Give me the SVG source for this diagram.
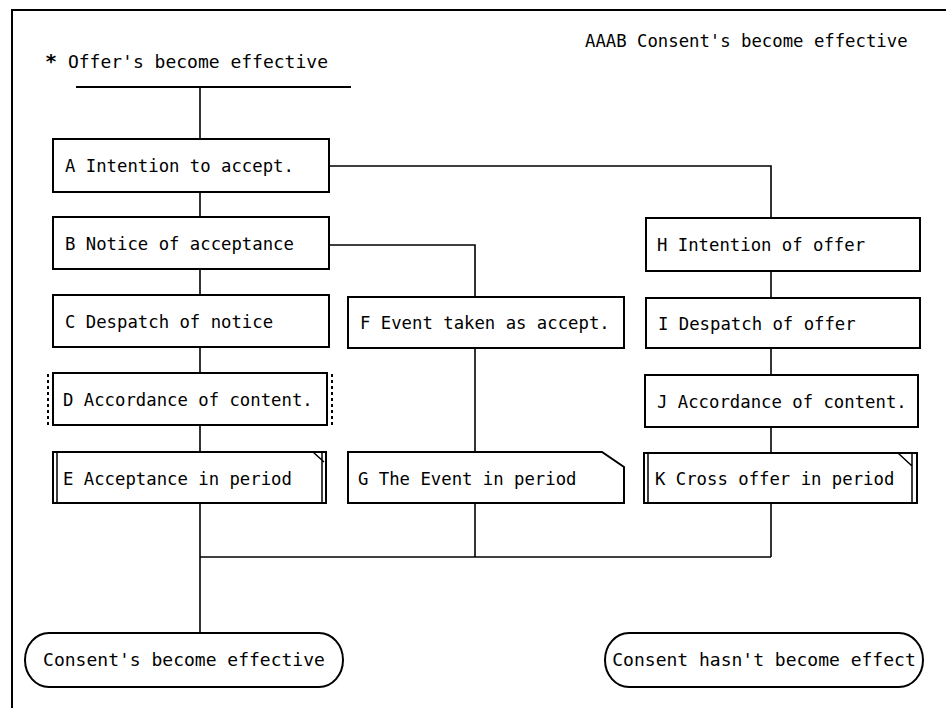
<svg xmlns="http://www.w3.org/2000/svg" width="946" height="708" viewBox="0 0 946 708">
  <style>
    .frame { stroke: #000; stroke-width: 2; fill: none; }
    .box { fill: #fff; stroke: #000; stroke-width: 2; }
    .deco { fill: none; stroke: #000; stroke-width: 1.5; }
    .dots { fill: none; stroke: #000; stroke-width: 2; stroke-dasharray: 3 3; }
    .wire { fill: none; stroke: #000; stroke-width: 1.6; }
    .label { font-family: "DejaVu Sans Mono", "Liberation Mono", monospace; font-size: 17.3px; fill: #000; }
    .head { font-family: "DejaVu Sans Mono", "Liberation Mono", monospace; font-size: 17.3px; fill: #000; }
    .end { font-family: "DejaVu Sans Mono", "Liberation Mono", monospace; font-size: 18px; fill: #000; }
  </style>

  <rect x="0" y="0" width="946" height="708" fill="#fff"/>

  <!-- page frame -->
  <path class="frame" d="M12,708 V10 H946"/>

  <!-- headings -->
  <text class="head" x="585" y="47">AAAB Consent's become effective</text>
  <text class="head" x="45" y="68" style="font-size:18px"><tspan font-weight="bold" font-size="20px">*</tspan> Offer's become effective</text>

  <!-- connectors -->
  <g id="connectors">
    <path class="frame" d="M76,87 H351"/>
    <path class="wire" d="M200,87 V139"/>
    <path class="wire" d="M200,192 V217"/>
    <path class="wire" d="M200,269 V295"/>
    <path class="wire" d="M200,347 V373"/>
    <path class="wire" d="M200,425 V452"/>
    <path class="wire" d="M200,503 V633"/>
    <path class="wire" d="M329,166 H771 V218"/>
    <path class="wire" d="M329,245 H475 V297"/>
    <path class="wire" d="M475,348 V452"/>
    <path class="wire" d="M475,503 V557"/>
    <path class="wire" d="M771,271 V298"/>
    <path class="wire" d="M771,348 V375"/>
    <path class="wire" d="M771,427 V453"/>
    <path class="wire" d="M771,503 V557"/>
    <path class="wire" d="M200,557 H771"/>
  </g>

  <!-- left column -->
  <g id="nodeA">
    <rect class="box" x="53" y="139" width="276" height="53"/>
    <text class="label" x="65" y="172">A Intention to accept.</text>
  </g>
  <g id="nodeB">
    <rect class="box" x="53" y="217" width="276" height="52"/>
    <text class="label" x="65" y="250">B Notice of acceptance</text>
  </g>
  <g id="nodeC">
    <rect class="box" x="53" y="295" width="276" height="52"/>
    <text class="label" x="65" y="328">C Despatch of notice</text>
  </g>
  <g id="nodeD">
    <rect class="box" x="53" y="373" width="274" height="52"/>
    <path class="dots" d="M48,374 V425 M332,374 V425"/>
    <text class="label" x="63" y="406">D Accordance of content.</text>
  </g>
  <g id="nodeE">
    <rect class="box" x="53" y="452" width="273" height="51"/>
    <path class="deco" d="M57,452 V503 M322,452 V503 M313,452 L324,462"/>
    <text class="label" x="63" y="485">E Acceptance in period</text>
  </g>

  <!-- middle column -->
  <g id="nodeF">
    <rect class="box" x="348" y="297" width="276" height="51"/>
    <text class="label" x="360" y="329">F Event taken as accept.</text>
  </g>
  <g id="nodeG">
    <path class="box" d="M348,452 H602 L624,467 V503 H348 Z"/>
    <text class="label" x="358" y="485">G The Event in period</text>
  </g>

  <!-- right column -->
  <g id="nodeH">
    <rect class="box" x="646" y="218" width="274" height="53"/>
    <text class="label" x="657" y="251">H Intention of offer</text>
  </g>
  <g id="nodeI">
    <rect class="box" x="646" y="298" width="274" height="50"/>
    <text class="label" x="658" y="330">I Despatch of offer</text>
  </g>
  <g id="nodeJ">
    <rect class="box" x="645" y="375" width="273" height="52"/>
    <text class="label" x="657" y="408">J Accordance of content.</text>
  </g>
  <g id="nodeK">
    <rect class="box" x="644" y="453" width="273" height="50"/>
    <path class="deco" d="M648,453 V503 M912,453 V503 M898,453 L912,466"/>
    <text class="label" x="655" y="485">K Cross offer in period</text>
  </g>

  <!-- outcomes -->
  <g id="outcomeYes">
    <rect class="box" x="25" y="633" width="318" height="54" rx="24" ry="27"/>
    <text class="end" x="184" y="666" text-anchor="middle">Consent's become effective</text>
  </g>
  <g id="outcomeNo">
    <rect class="box" x="605" y="633" width="318" height="54" rx="24" ry="27"/>
    <text class="end" x="764" y="666" text-anchor="middle">Consent hasn't become effect</text>
  </g>
</svg>
